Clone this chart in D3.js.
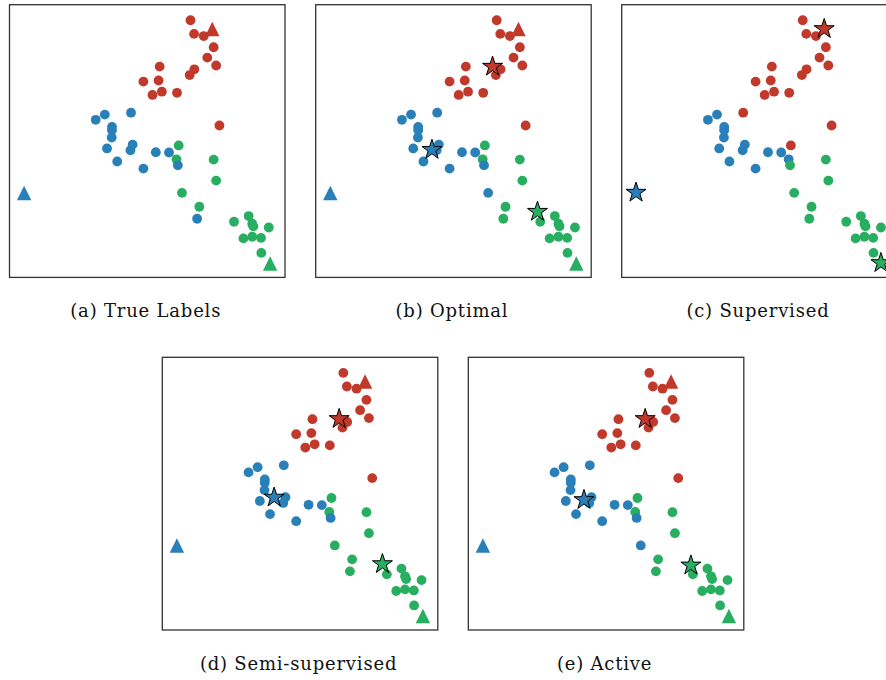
<!DOCTYPE html>
<html>
<head>
<meta charset="utf-8">
<script src="https://cdn.jsdelivr.net/npm/d3@7"></script>
<style>
  html, body { margin: 0; padding: 0; background: #fff; }
  svg { display: block; }
</style>
</head>
<body>
<svg id="fig" width="886" height="680"></svg>
<script>
// Point ids (drawn in this order: later points sit on top)
const pointIds = [
  "r1","r2","r3","r4","r5","r6","r7","r8","r9","r10","r11","r12","r13","r14","r15",
  "g1","g2","g3","g4","g5","g6","g7","g8","g9","g10","g11","g12","g13","g14","g15",
  "b1","b2","b3","b4","b5","b6","b7","b8","b9","b10","b11","b12","b13","b14","b15"
];
// 2-D embedding coordinates
const pointX = [
  65.7, 67.0, 70.5, 74.1, 71.8, 75.0, 67.1, 65.4, 54.5, 54.1, 48.6, 55.3, 51.9, 60.8, 76.2,
  61.4, 60.6, 74.1, 75.0, 62.6, 68.9, 81.5, 86.8, 88.1, 88.5, 94.1, 84.9, 88.1, 91.3, 91.4,
  34.6, 31.3, 44.1, 37.2, 37.2, 37.1, 35.4, 44.7, 43.9, 39.1, 53.1, 57.9, 61.1, 48.6, 68.1
];
const pointY = [
  94.3, 89.3, 88.5, 84.4, 80.6, 77.7, 76.3, 74.2, 77.3, 72.2, 71.8, 68.1, 66.9, 67.7, 55.7,
  48.4, 43.3, 43.2, 35.5, 31.0, 25.9, 20.4, 22.5, 19.7, 18.7, 18.3, 14.3, 14.9, 14.5,  9.0,
  59.7, 57.8, 60.4, 55.2, 54.0, 51.3, 47.3, 48.7, 46.6, 42.5, 45.9, 45.8, 41.1, 39.9, 21.5
];

const classes = ["A", "B", "C"];
const classColors = ["#c0392b", "#2980b9", "#27ae60"];

// Labelled reference points (one per class)
const refX = [73.6, 5.3, 94.6];
const refY = [91.0, 30.9, 5.0];

// Cluster assignments for each panel
const labelsTrue = [
  "A","A","A","A","A","A","A","A","A","A","A","A","A","A","A",
  "C","C","C","C","C","C","C","C","C","C","C","C","C","C","C",
  "B","B","B","B","B","B","B","B","B","B","B","B","B","B","B"
];
const labelsOptimal = [
  "A","A","A","A","A","A","A","A","A","A","A","A","A","A","A",
  "C","C","C","C","B","C","C","C","C","C","C","C","C","C","C",
  "B","B","B","B","B","B","B","B","B","B","B","B","B","B","C"
];
const labelsSupervised = [
  "A","A","A","A","A","A","A","A","A","A","A","A","A","A","A",
  "A","B","C","C","C","C","C","C","C","C","C","C","C","C","C",
  "B","B","A","B","B","B","B","B","B","B","B","B","C","B","C"
];
const labelsSemi = [
  "A","A","A","A","A","A","A","A","A","A","A","A","A","A","A",
  "C","C","C","C","C","C","C","C","C","C","C","C","C","C","C",
  "B","B","B","B","B","B","B","B","B","B","B","B","B","B","C"
];
const labelsActive = labelsOptimal.slice();

// Cluster centres (stars) per panel, ordered A, B, C
const centresOptimalX = [64.2, 42.2, 80.5],    centresOptimalY = [77.3, 46.8, 24.1];
const centresSupervisedX = [73.5, 5.2, 94.1],  centresSupervisedY = [91.1, 31.1, 5.3];
const centresSemiX = [64.2, 40.6, 79.9],       centresSemiY = [77.4, 48.6, 24.2];
const centresActiveX = [64.2, 42.0, 80.8],     centresActiveY = [77.4, 47.7, 23.7];

const captions = ["(a) True Labels", "(b) Optimal", "(c) Supervised", "(d) Semi-supervised", "(e) Active"];

const panels = [
  { caption: captions[0], labels: labelsTrue,       refs: true,  cx: null, cy: null, left: 9.5,   top: 4.7 },
  { caption: captions[1], labels: labelsOptimal,    refs: true,  cx: centresOptimalX, cy: centresOptimalY, left: 315.7, top: 4.7 },
  { caption: captions[2], labels: labelsSupervised, refs: false, cx: centresSupervisedX, cy: centresSupervisedY, left: 621.7, top: 4.7 },
  { caption: captions[3], labels: labelsSemi,       refs: true,  cx: centresSemiX, cy: centresSemiY, left: 162.3, top: 357.3 },
  { caption: captions[4], labels: labelsActive,     refs: true,  cx: centresActiveX, cy: centresActiveY, left: 468.3, top: 357.3 }
];

const W = 275.5, H = 272.7;
const x = d3.scaleLinear().domain([0, 100]).range([0, W]);
const y = d3.scaleLinear().domain([0, 100]).range([H, 0]);
const color = d3.scaleOrdinal().domain(classes).range(classColors);

const tri = "M0,-7.5L7.2,7L-7.2,7Z";
const star = d3.symbol().type(d3.symbolStar).size(124)();

const svg = d3.select("#fig");

panels.forEach(p => {
  const g = svg.append("g").attr("transform", `translate(${p.left},${p.top})`);

  g.append("rect")
    .attr("width", W).attr("height", H)
    .attr("fill", "#fff");

  const pts = pointIds.map((id, i) => ({ id, x: pointX[i], y: pointY[i], c: p.labels[i] }));
  g.selectAll("circle.pt").data(pts).join("circle")
    .attr("class", "pt")
    .attr("cx", d => x(d.x)).attr("cy", d => y(d.y))
    .attr("r", 4.9)
    .attr("fill", d => color(d.c));

  if (p.refs) {
    g.selectAll("path.ref").data(classes).join("path")
      .attr("class", "ref")
      .attr("d", tri)
      .attr("transform", (c, i) => `translate(${x(refX[i])},${y(refY[i])})`)
      .attr("fill", c => color(c));
  }

  if (p.cx) {
    g.selectAll("path.centre").data(classes).join("path")
      .attr("class", "centre")
      .attr("d", star)
      .attr("transform", (c, i) => `translate(${x(p.cx[i])},${y(p.cy[i])})`)
      .attr("fill", c => color(c))
      .attr("stroke", "#000")
      .attr("stroke-width", 1)
      .attr("stroke-linejoin", "miter");
  }

  g.append("rect")
    .attr("width", W).attr("height", H)
    .attr("fill", "none")
    .attr("stroke", "#333")
    .attr("stroke-width", 1.3);

  svg.append("text")
    .attr("x", p.left + W / 2 - 1.5)
    .attr("y", p.top + H + 39.5)
    .attr("text-anchor", "middle")
    .attr("font-family", "'DejaVu Serif', serif")
    .attr("font-size", 18)
    .attr("letter-spacing", 0.8)
    .attr("fill", "#111")
    .text(p.caption);
});
</script>
</body>
</html>
